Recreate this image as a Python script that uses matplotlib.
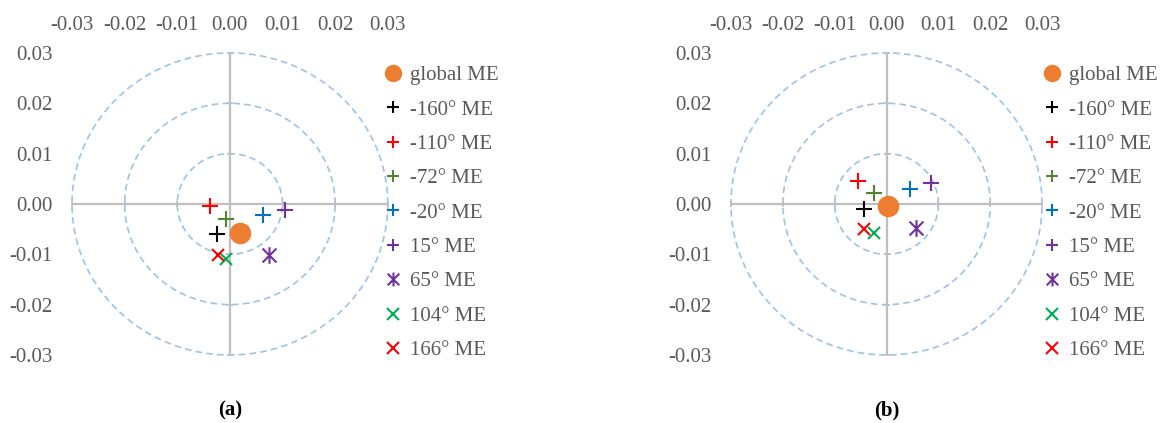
import numpy as np
import matplotlib
matplotlib.use("Agg")
import matplotlib.pyplot as plt
from matplotlib.lines import Line2D
from matplotlib.path import Path

# ------------------------------------------------------------------ #
#  Data
# ------------------------------------------------------------------ #
labels = ["global ME", "-160° ME", "-110° ME", "-72° ME", "-20° ME",
          "15° ME", "65° ME", "104° ME", "166° ME"]

x_a = [0.0019, -0.0025, -0.0038, -0.0008, 0.0062, 0.0104, 0.0074, -0.0008, -0.0022]
y_a = [-0.0057, -0.0060, -0.0004, -0.0030, -0.0022, -0.0011, -0.0101, -0.0110, -0.0102]

x_b = [0.0002, -0.0043, -0.0055, -0.0025, 0.0045, 0.0086, 0.0057, -0.0025, -0.0043]
y_b = [-0.0004, -0.0009, 0.0045, 0.0022, 0.0030, 0.0041, -0.0047, -0.0057, -0.0049]

radii = [0.01, 0.02, 0.03]
ticks = [-0.03, -0.02, -0.01, 0.00, 0.01, 0.02, 0.03]

# Excel-like "star" marker: an x with a vertical stroke
STAR = Path([(-0.5, -0.5), (0.5, 0.5), (-0.5, 0.5), (0.5, -0.5), (0, -0.6), (0, 0.6)],
            [Path.MOVETO, Path.LINETO, Path.MOVETO, Path.LINETO, Path.MOVETO, Path.LINETO])

STYLES = [
    dict(marker="o", color="#ED7D31", size=14, legsize=11),
    dict(marker="+", color="#000000", size=11, legsize=9),
    dict(marker="+", color="#FF0000", size=11, legsize=9),
    dict(marker="+", color="#548235", size=11, legsize=9),
    dict(marker="+", color="#0070C0", size=11, legsize=9),
    dict(marker="+", color="#7030A0", size=11, legsize=9),
    dict(marker=STAR, color="#7030A0", size=12, legsize=10),
    dict(marker="x", color="#00B050", size=9, legsize=8),
    dict(marker="x", color="#FF0000", size=9, legsize=8),
]

TEXT_GREY = "#595959"
FS = 15
plt.rcParams["font.family"] = ["Liberation Serif", "DejaVu Serif"]


def draw_panel(ax, xs, ys, tag, leg_anchor):
    th = np.linspace(0, 2 * np.pi, 400)
    for r in radii:
        ax.plot(r * np.cos(th), r * np.sin(th), ls=(0, (4, 2.5)), lw=1.2,
                color="#9DC3E6", clip_on=False, zorder=1)
    ax.plot([-0.03, 0.03], [0, 0], color="#BFBFBF", lw=1.6, zorder=2)
    ax.plot([0, 0], [-0.03, 0.03], color="#BFBFBF", lw=1.6, zorder=2)
    # small axis tick marks where the circles cross
    ax.plot(radii + [-r for r in radii], [0] * 6, ls="none", marker="|",
            ms=4, color="#BFBFBF", mew=1.2, clip_on=False, zorder=2)
    ax.plot([0] * 6, radii + [-r for r in radii], ls="none", marker="_",
            ms=4, color="#BFBFBF", mew=1.2, clip_on=False, zorder=2)

    handles = []
    for x, y, lab, st in zip(xs, ys, labels, STYLES):
        filled = st["marker"] == "o"
        ax.plot([x], [y], ls="none", marker=st["marker"], ms=st["size"],
                mec=st["color"], mfc=st["color"] if filled else "none",
                mew=1.5, zorder=5)
        handles.append(Line2D([], [], ls="none", marker=st["marker"],
                              ms=st["legsize"], mec=st["color"],
                              mfc=st["color"] if filled else "none",
                              mew=1.5, label=lab))

    ax.set_xlim(-0.03, 0.03)
    ax.set_ylim(-0.03, 0.03)
    ax.set_xticks(ticks)
    ax.set_yticks(ticks)
    ax.set_xticklabels([f"{t:.2f}" for t in ticks])
    ax.set_yticklabels([f"{t:.2f}" for t in ticks])
    ax.xaxis.tick_top()
    ax.tick_params(length=0, labelsize=FS, colors=TEXT_GREY, pad=13)
    ax.tick_params(axis="y", pad=14)
    for s in ax.spines.values():
        s.set_visible(False)

    leg = ax.legend(handles=handles, loc="upper left", bbox_to_anchor=leg_anchor,
                    frameon=False, fontsize=FS, handlelength=0.6,
                    handletextpad=0.5, labelspacing=0.71, borderaxespad=0,
                    borderpad=0)
    for t in leg.get_texts():
        t.set_color(TEXT_GREY)

    ax.text(0, -0.0410, f"({tag})", ha="center", va="center",
            fontsize=FS, fontweight="bold", color="black")


fig = plt.figure(figsize=(11.61, 4.23), dpi=100)
ax_a = fig.add_axes([0.062, 0.1608, 0.272, 0.714])
ax_b = fig.add_axes([0.6296, 0.1608, 0.268, 0.714])

draw_panel(ax_a, x_a, y_a, "a", (0.997, 0.958))
draw_panel(ax_b, x_b, y_b, "b", (1.013, 0.958))

fig.savefig("out.png", dpi=100)
